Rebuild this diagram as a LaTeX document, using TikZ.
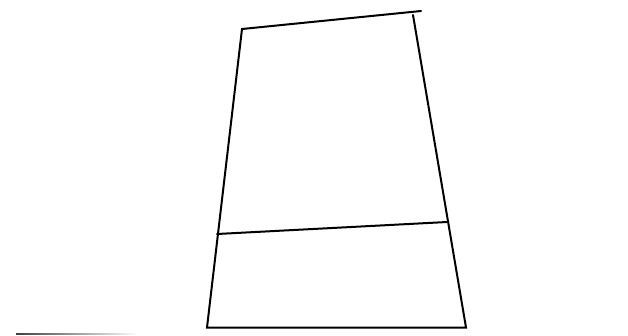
\documentclass[tikz,border=0pt]{standalone}
\usetikzlibrary{calc}

\begin{document}
\begin{tikzpicture}[x=1pt, y=-1pt, edge/.style={line width=2pt, black, line cap=round}]

  %% --- Frame of the canvas ---
  \useasboundingbox (0, 0) rectangle (628, 335);

  %% --- Corner points ---
  \coordinate (topL) at (242, 29);
  \coordinate (topR) at (421, 11);
  \coordinate (rightTop) at (413, 15);
  \coordinate (botL) at (207, 327.5);
  \coordinate (botR) at (466, 327.5);
  \coordinate (midL) at (217, 234);
  \coordinate (midR) at (447, 222);

  %% --- Outline ---
  \draw[edge] (topR) -- (topL) -- (botL) -- (botR) -- (rightTop);
  \draw[edge] (midL) -- (midR);

  %% --- Faded stroke at the lower left ---
  \shade[left color=black!75, right color=white] (16, 333) rectangle (138, 334.5);
\end{tikzpicture}
\end{document}
